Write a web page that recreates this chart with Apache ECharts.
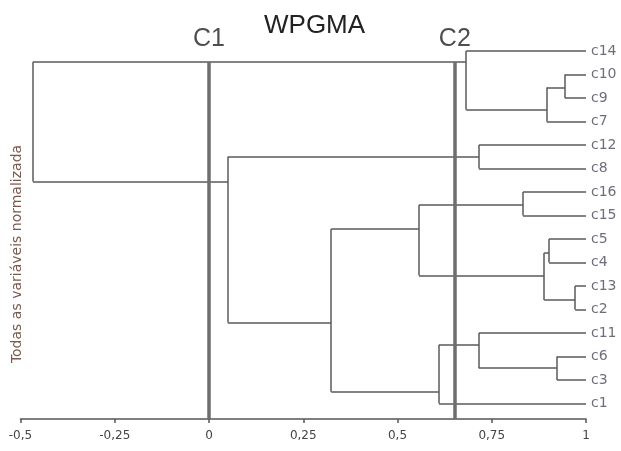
<!DOCTYPE html>
<html>
<head>
<meta charset="utf-8">
<script src="https://cdn.jsdelivr.net/npm/echarts@6/dist/echarts.min.js"></script>
<style>
  html, body { margin: 0; padding: 0; background: #fff; }
</style>
</head>
<body>
<div id="main" style="width: 621px; height: 451px;"></div>
<script>
// folhas do dendrograma, de cima para baixo
var leaves = ['c14', 'c10', 'c9', 'c7', 'c12', 'c8', 'c16', 'c15', 'c5', 'c4', 'c13', 'c2', 'c11', 'c6', 'c3', 'c1'];
var leafDistance = 1;

// fusoes WPGMA: filho de cima, filho de baixo, altura, posicao da ligacao
var nodeNames = ['n1', 'n2', 'n3', 'n4', 'n5', 'n6', 'n7', 'n8', 'n9', 'n10', 'n11', 'n12', 'n13', 'n14', 'root'];
var nodeTop = ['c10', 'n1', 'c14', 'c12', 'c16', 'c5', 'c13', 'n6', 'n5', 'c6', 'c11', 'n11', 'n9', 'n4', 'n3'];
var nodeBottom = ['c9', 'c7', 'n2', 'c8', 'c15', 'c4', 'c2', 'n7', 'n8', 'c3', 'n10', 'c1', 'n12', 'n13', 'n14'];
var nodeHeight = [0.944, 0.896, 0.682, 0.716, 0.833, 0.902, 0.971, 0.889, 0.557, 0.923, 0.716, 0.61, 0.324, 0.05, -0.467];
var nodeLink = [1.55, 2.5, 0.47, 4.5, 6.55, 8.6, 10.6, 9.55, 7.57, 13.5, 12.5, 14.5, 11.55, 5.55, 3];

// linhas de corte
var cutNames = ['C1', 'C2'];
var cutValues = [0, 0.652];

// eixo x
var xTicks = [-0.5, -0.25, 0, 0.25, 0.5, 0.75, 1];
var xTickLabels = ['-0,5', '-0,25', '0', '0,25', '0,5', '0,75', '1'];

var yMin = -1;
var yMax = 15.66;

// posicao (x = distancia, y = ordem) de cada folha / no
var pos = {};
leaves.forEach(function (name, i) {
  pos[name] = [leafDistance, i];
});
nodeNames.forEach(function (name, i) {
  pos[name] = [nodeHeight[i], nodeLink[i]];
});

var segments = [];
nodeNames.forEach(function (name, i) {
  var h = nodeHeight[i];
  var a = pos[nodeTop[i]];
  var b = pos[nodeBottom[i]];
  segments.push({ coords: [[h, a[1]], [h, b[1]]] });
  segments.push({ coords: [[a[0], a[1]], [h, a[1]]] });
  segments.push({ coords: [[b[0], b[1]], [h, b[1]]] });
});

// topo das linhas de corte = ligacao mais alta da raiz
var rootIdx = nodeNames.indexOf('root');
var cutTop = Math.min(pos[nodeTop[rootIdx]][1], pos[nodeBottom[rootIdx]][1]);
var cutSegments = cutValues.map(function (v) {
  return { coords: [[v, cutTop], [v, yMax]] };
});

var myChart = echarts.init(document.getElementById('main'));
var option = {
  animation: false,
  title: {
    text: 'WPGMA',
    left: 259,
    top: 8,
    textStyle: {
      fontFamily: 'Liberation Sans',
      fontSize: 26,
      fontWeight: 'normal',
      color: '#222'
    }
  },
  grid: {
    left: 20.5,
    right: 35,
    top: 27.5,
    bottom: 32
  },
  xAxis: {
    type: 'value',
    min: -0.5,
    max: 1,
    interval: 0.25,
    splitLine: { show: false },
    axisLine: { onZero: false, lineStyle: { color: '#555', width: 1.5 } },
    axisTick: { length: 4, lineStyle: { color: '#555', width: 1.5 } },
    axisLabel: {
      margin: 11,
      fontFamily: 'DejaVu Sans',
      fontSize: 12,
      color: '#444',
      formatter: function (v) {
        var k = xTicks.indexOf(Math.round(v * 100) / 100);
        return k >= 0 ? xTickLabels[k] : '';
      }
    }
  },
  yAxis: {
    type: 'value',
    inverse: true,
    min: yMin,
    max: yMax,
    show: false
  },
  graphic: [
    {
      type: 'text',
      x: 17,
      y: 254,
      rotation: Math.PI / 2,
      style: {
        text: 'Todas as variáveis normalizada',
        fontFamily: 'DejaVu Sans',
        fontSize: 14,
        fill: '#7a5a4e',
        textAlign: 'center',
        textVerticalAlign: 'middle'
      }
    }
  ],
  series: [
    {
      type: 'lines',
      coordinateSystem: 'cartesian2d',
      silent: true,
      lineStyle: { color: '#5a5a5a', width: 1.5, opacity: 1 },
      data: segments
    },
    {
      type: 'lines',
      coordinateSystem: 'cartesian2d',
      silent: true,
      lineStyle: { color: '#6e6e6e', width: 3.5, opacity: 1 },
      data: cutSegments
    },
    {
      type: 'scatter',
      symbolSize: 0,
      silent: true,
      data: leaves.map(function (name, i) {
        return { name: name, value: pos[name] };
      }),
      label: {
        show: true,
        position: 'right',
        distance: 5,
        formatter: '{b}',
        fontFamily: 'DejaVu Sans',
        fontSize: 14,
        color: '#4a4a5a'
      }
    },
    {
      type: 'scatter',
      symbolSize: 0,
      silent: true,
      data: cutNames.map(function (name, i) {
        return { name: name, value: [cutValues[i], cutTop] };
      }),
      label: {
        show: true,
        position: 'top',
        distance: 10,
        formatter: '{b}',
        fontFamily: 'Liberation Sans',
        fontSize: 25,
        color: '#222'
      }
    }
  ]
};
myChart.setOption(option);
</script>
</body>
</html>
